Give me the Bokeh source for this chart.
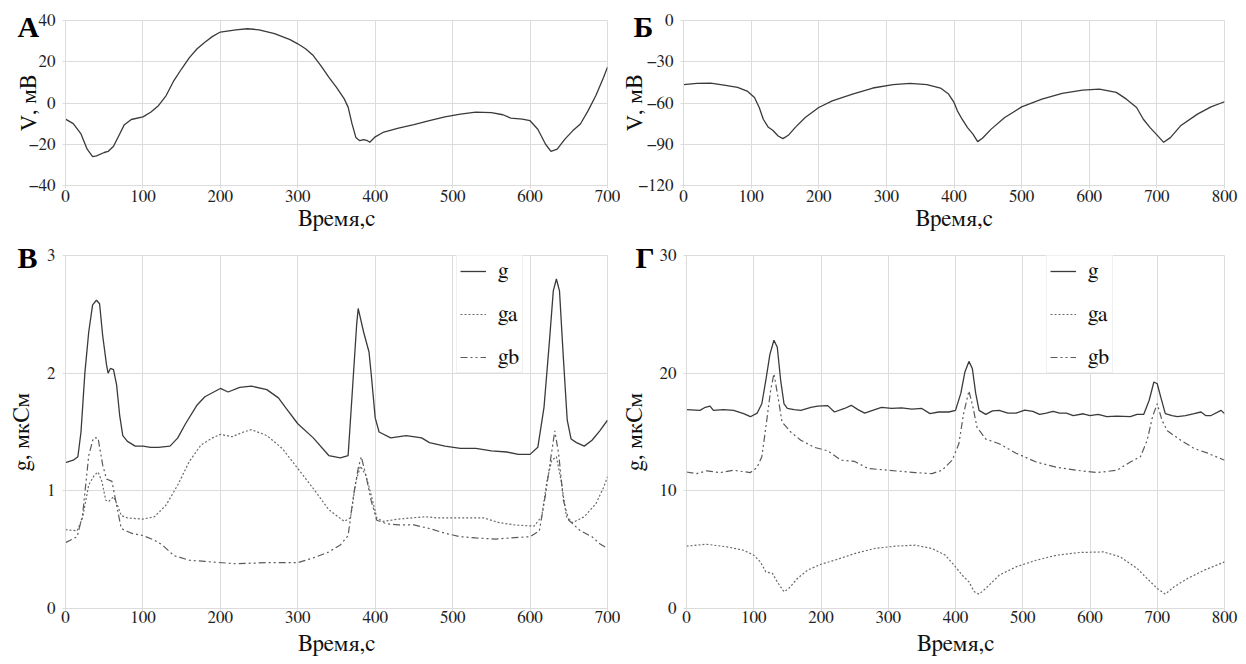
from bokeh.plotting import figure
from bokeh.layouts import column, row
from bokeh.models import Range1d, Legend, LegendItem, FixedTicker, Title
from bokeh.embed import file_html
from bokeh.resources import INLINE

# ---------------- data ----------------
tA = [0, 10, 20, 28, 35, 40, 50, 55, 62, 70, 76, 85, 100, 110, 120, 130, 140, 150, 160, 170,
      180, 190, 200, 220, 235, 250, 270, 290, 300, 310, 320, 330, 340, 350, 360, 365, 370, 375,
      380, 385, 390, 393, 400, 410, 430, 450, 470, 490, 510, 530, 550, 565, 575, 590, 600, 610,
      620, 627, 635, 645, 655, 665, 675, 685, 695, 700]
vA = [-7.8, -10, -15, -22.4, -26, -25.6, -24, -23.5, -21, -15, -10.5, -8, -6.7, -4.5, -1.3, 3.6,
      10.9, 16.6, 22, 26.3, 29.5, 32.3, 34.4, 35.5, 36, 35.5, 33.6, 30.7, 28.7, 26.3, 23, 18,
      12.5, 7.6, 2, -2, -10, -16.7, -18.3, -17.7, -18.3, -19, -16.4, -14.3, -12.2, -10.5, -8.6,
      -6.7, -5.4, -4.4, -4.7, -5.7, -7.3, -7.8, -8.6, -12.7, -20, -23.5, -22.4, -17.5, -13.5,
      -10.2, -3.7, 3.6, 12.5, 17.4]

tB = [0, 20, 40, 60, 80, 95, 105, 112, 118, 125, 132, 140, 147, 155, 165, 180, 200, 220, 250,
      280, 310, 335, 360, 380, 392, 400, 405, 412, 420, 428, 435, 442, 455, 475, 500, 530, 560,
      590, 615, 640, 655, 670, 680, 690, 700, 710, 720, 735, 760, 780, 800]
vB = [-46.7, -45.7, -45.5, -47, -48.7, -51.6, -56, -63.3, -71.8, -77.4, -79.8, -84, -85.9,
      -83.5, -77.9, -70.6, -63.3, -58.4, -53.5, -49.1, -46.7, -45.7, -46.7, -49.1, -53.5, -59.6,
      -65.7, -71.8, -77.9, -82.7, -88.1, -85.6, -79, -70.6, -62.8, -57.2, -53, -50.6, -49.9,
      -52.3, -57.2, -63.3, -71.8, -77.9, -83.2, -88.6, -85.2, -76.6, -68.1, -62.8, -59.1]

tVg = [0, 10, 16, 20, 25, 30, 35, 40, 44, 48, 53, 55, 58, 62, 66, 70, 74, 80, 90, 100, 110, 120,
       135, 145, 155, 170, 180, 200, 210, 225, 240, 260, 275, 285, 300, 320, 340, 355, 365, 370,
       376, 378, 385, 392, 395, 400, 405, 420, 440, 460, 470, 490, 510, 530, 550, 570, 585, 600,
       610, 618, 625, 630, 634, 638, 643, 648, 653, 660, 670, 680, 690, 700]
vVg = [1.24, 1.26, 1.29, 1.5, 2.0, 2.35, 2.58, 2.62, 2.59, 2.32, 2.07, 2.0, 2.04, 2.03, 1.9,
       1.64, 1.47, 1.42, 1.38, 1.38, 1.37, 1.37, 1.38, 1.45, 1.57, 1.73, 1.8, 1.87, 1.84, 1.88,
       1.89, 1.86, 1.79, 1.7, 1.57, 1.45, 1.3, 1.28, 1.3, 1.8, 2.41, 2.55, 2.35, 2.18, 1.98,
       1.62, 1.5, 1.45, 1.47, 1.45, 1.41, 1.38, 1.36, 1.36, 1.34, 1.33, 1.31, 1.31, 1.37, 1.71,
       2.27, 2.7, 2.8, 2.7, 2.13, 1.6, 1.44, 1.41, 1.38, 1.43, 1.51, 1.6]
tVa = [0, 15, 22, 30, 37, 42, 47, 52, 56, 62, 67, 72, 80, 100, 115, 130, 145, 160, 175, 190,
       200, 215, 230, 240, 260, 280, 300, 320, 340, 360, 368, 375, 381, 388, 395, 402, 410, 430,
       465, 480, 510, 540, 560, 580, 605, 615, 622, 628, 634, 640, 647, 655, 670, 685, 695, 700]
vVa = [0.67, 0.66, 0.77, 1.05, 1.13, 1.16, 1.08, 0.92, 0.91, 0.95, 0.88, 0.79, 0.77, 0.76,
       0.78, 0.88, 1.05, 1.25, 1.39, 1.45, 1.48, 1.46, 1.5, 1.52, 1.47, 1.36, 1.19, 1.02, 0.84,
       0.74, 0.77, 1.08, 1.21, 1.13, 0.96, 0.77, 0.74, 0.76, 0.78, 0.77, 0.77, 0.77, 0.73, 0.71,
       0.70, 0.78, 1.09, 1.26, 1.29, 1.09, 0.78, 0.73, 0.78, 0.89, 1.03, 1.12]
tVb = [0, 15, 22, 30, 36, 42, 48, 53, 60, 65, 72, 85, 100, 115, 125, 140, 160, 180, 220, 260,
       300, 320, 340, 355, 365, 372, 378, 382, 388, 395, 402, 415, 430, 450, 470, 490, 510, 530,
       555, 575, 600, 612, 620, 627, 632, 637, 643, 650, 665, 680, 690, 700]
vVb = [0.56, 0.61, 0.79, 1.3, 1.45, 1.45, 1.22, 1.1, 1.08, 0.91, 0.68, 0.64, 0.62, 0.58, 0.54,
       0.45, 0.41, 0.4, 0.38, 0.39, 0.39, 0.43, 0.48, 0.54, 0.62, 0.96, 1.19, 1.29, 1.13, 0.91,
       0.75, 0.72, 0.71, 0.71, 0.68, 0.64, 0.61, 0.60, 0.59, 0.60, 0.61, 0.66, 0.97, 1.29, 1.51,
       1.31, 0.92, 0.75, 0.66, 0.61, 0.55, 0.51]

tGg = [0, 20, 28, 35, 40, 55, 70, 85, 95, 105, 112, 118, 124, 130, 135, 140, 145, 150, 160,
       170, 185, 195, 210, 220, 235, 245, 255, 265, 280, 290, 305, 320, 335, 350, 362, 375, 390,
       400, 408, 414, 420, 425, 430, 435, 445, 455, 465, 478, 490, 503, 515, 525, 535, 545, 555,
       565, 575, 590, 600, 612, 625, 640, 660, 670, 680, 688, 695, 700, 705, 712, 722, 730, 742,
       755, 765, 772, 780, 795, 800]
vGg = [16.9, 16.84, 17.1, 17.2, 16.84, 16.9, 16.84, 16.56, 16.3, 16.6, 17.4, 19.4, 21.6, 22.8,
       22.2, 19.4, 17.4, 17.0, 16.9, 16.84, 17.1, 17.2, 17.24, 16.7, 17.0, 17.27, 16.9, 16.6,
       16.9, 17.1, 17.0, 17.05, 16.95, 17.0, 16.56, 16.7, 16.7, 16.84, 18.3, 20.1, 21.0, 20.4,
       18.3, 16.84, 16.5, 16.8, 16.84, 16.6, 16.6, 16.85, 16.75, 16.5, 16.6, 16.75, 16.6, 16.6,
       16.4, 16.55, 16.4, 16.5, 16.3, 16.35, 16.3, 16.5, 16.5, 17.7, 19.25, 19.1, 18.0, 16.56,
       16.4, 16.3, 16.4, 16.56, 16.7, 16.4, 16.4, 16.84, 16.56]
tGa = [0, 30, 60, 85, 100, 110, 118, 128, 135, 145, 152, 165, 180, 200, 220, 250, 280, 310, 340,
       365, 385, 398, 410, 420, 428, 435, 445, 465, 490, 520, 550, 585, 620, 645, 670, 690, 700,
       712, 725, 745, 770, 800]
vGa = [5.3, 5.46, 5.24, 4.95, 4.53, 3.96, 3.11, 2.97, 2.26, 1.42, 1.7, 2.55, 3.26, 3.76, 4.1,
       4.67, 5.1, 5.3, 5.38, 5.1, 4.53, 3.68, 2.83, 2.26, 1.42, 1.22, 1.7, 2.83, 3.54, 4.1, 4.53,
       4.76, 4.81, 4.39, 3.4, 2.26, 1.7, 1.22, 1.84, 2.55, 3.26, 3.96]
tGb = [0, 15, 30, 50, 70, 95, 105, 112, 118, 125, 130, 136, 142, 155, 170, 190, 210, 230, 250,
       270, 300, 340, 365, 380, 395, 405, 412, 420, 426, 432, 445, 465, 490, 520, 550, 580, 610,
       640, 660, 675, 685, 693, 700, 707, 715, 735, 755, 775, 800]
vGb = [11.6, 11.46, 11.7, 11.55, 11.75, 11.55, 12.0, 12.9, 15.4, 18.5, 19.95, 18.0, 15.85, 15.0,
       14.3, 13.7, 13.4, 12.6, 12.5, 11.9, 11.75, 11.55, 11.46, 11.75, 12.6, 14.0, 16.56, 18.5,
       17.1, 15.4, 14.4, 14.0, 13.2, 12.45, 12.0, 11.75, 11.55, 11.75, 12.45, 12.9, 14.3, 16.3,
       17.4, 16.0, 15.1, 14.3, 13.6, 13.2, 12.6]

xticks_700 = [0, 100, 200, 300, 400, 500, 600, 700]
xticks_800 = [0, 100, 200, 300, 400, 500, 600, 700, 800]
yticks_A = [-40, -20, 0, 20, 40]
yticks_B = [-120, -90, -60, -30, 0]
yticks_V = [0, 1, 2, 3]
yticks_G = [0, 10, 20, 30]

x_label = "Время,с"
v_label = "V, мВ"
g_label = "g, мкСм"
legend_names = ["g", "ga", "gb"]
panel_letters = ["А", "Б", "В", "Г"]

FONT = "FreeSerif"
LETTER_FONT = "Liberation Serif"
GRID = "#dcdcdc"
C_G = "#3a3a3a"
C_A = "#6a6a6a"
C_B = "#5a5a5a"


def make_fig(width, height, xr, yr, xticks, yticks, ylabel, bl, br, bt, bb,
             ylab_standoff, xtick_standoff, xlab_standoff):
    p = figure(width=width, height=height, x_range=Range1d(*xr), y_range=Range1d(*yr),
               output_backend="svg", toolbar_location=None,
               min_border_left=bl, min_border_right=br, min_border_top=bt, min_border_bottom=bb)
    p.outline_line_color = GRID
    p.background_fill_color = "white"
    p.border_fill_color = "white"
    p.xaxis.ticker = FixedTicker(ticks=xticks)
    p.yaxis.ticker = FixedTicker(ticks=yticks)
    p.xgrid.grid_line_color = GRID
    p.ygrid.grid_line_color = GRID
    for axes in (p.xaxis, p.yaxis):
        axes.axis_line_color = GRID
        axes.major_tick_line_color = GRID
        axes.major_tick_out = 3
        axes.major_tick_in = 0
        axes.minor_tick_line_color = None
        axes.major_label_text_font = FONT
        axes.major_label_text_font_size = "17px"
        axes.major_label_text_color = "#222222"
        axes.axis_label_text_font = FONT
        axes.axis_label_text_font_style = "normal"
        axes.axis_label_text_font_size = "23px"
        axes.axis_label_text_color = "#111111"
    p.xaxis.axis_label = x_label
    p.yaxis.axis_label = ylabel
    p.xaxis.major_label_standoff = xtick_standoff
    p.yaxis.major_label_standoff = 7
    p.xaxis.axis_label_standoff = xlab_standoff
    p.yaxis.axis_label_standoff = ylab_standoff
    return p


def letter_title(p, txt, offset, standoff):
    p.add_layout(Title(text=txt, align="left", vertical_align="bottom", offset=offset,
                       standoff=standoff, text_font=LETTER_FONT, text_font_size="30px",
                       text_font_style="bold", text_color="black"), "above")


def add_legend(p, rends, x, y):
    items = [LegendItem(label=n, renderers=[r]) for n, r in zip(legend_names, rends)]
    lg = Legend(items=items, location=(x, y), label_text_font=FONT,
                label_text_font_size="22px", label_text_color="#111111",
                glyph_width=26, glyph_height=20, label_height=24, label_standoff=12,
                spacing=19, padding=3, margin=0, border_line_color="#e2e2e2",
                background_fill_color="white", background_fill_alpha=1.0)
    p.add_layout(lg)


# ---------- Panel А ----------
pA = make_fig(620, 240, (0, 700), (-40, 40), xticks_700, yticks_A,
              v_label, 65, 13, 20, 55, -15, 2, 3)
pA.line(tA, vA, line_color=C_G, line_width=1.3)
letter_title(pA, panel_letters[0], -48, -44)

# ---------- Panel Б ----------
pB = make_fig(626, 240, (0, 800), (-120, 0), xticks_800, yticks_B,
              v_label, 63, 22, 20, 55, -12, 2, 3)
pB.line(tB, vB, line_color=C_G, line_width=1.3)
letter_title(pB, panel_letters[1], -50, -44)

# ---------- Panel В ----------
pV = make_fig(620, 424, (0, 700), (0, 3), xticks_700, yticks_V,
              g_label, 65, 13, 15, 56, 10, 0, 7)
r1 = pV.line(tVg, vVg, line_color=C_G, line_width=1.3)
r2 = pV.line(tVa, vVa, line_color=C_A, line_width=1.2, line_dash="2 2")
r3 = pV.line(tVb, vVb, line_color=C_B, line_width=1.2, line_dash="7 3 2 3 2 3")
add_legend(pV, [r1, r2, r3], 391, 235)
letter_title(pV, panel_letters[2], -48, -37)

# ---------- Panel Г ----------
pG = make_fig(626, 424, (0, 800), (0, 30), xticks_800, yticks_G,
              g_label, 63, 22, 15, 56, 10, 0, 7)
s1 = pG.line(tGg, vGg, line_color=C_G, line_width=1.3)
s2 = pG.line(tGa, vGa, line_color=C_A, line_width=1.2, line_dash="2 2")
s3 = pG.line(tGb, vGb, line_color=C_B, line_width=1.2, line_dash="7 3 2 3 2 3")
add_legend(pG, [s1, s2, s3], 360, 235)
letter_title(pG, panel_letters[3], -51, -37)

layout = column(row(pA, pB, spacing=0), row(pV, pG, spacing=0), spacing=0)

open("out.html", "w").write(file_html(layout, INLINE))
